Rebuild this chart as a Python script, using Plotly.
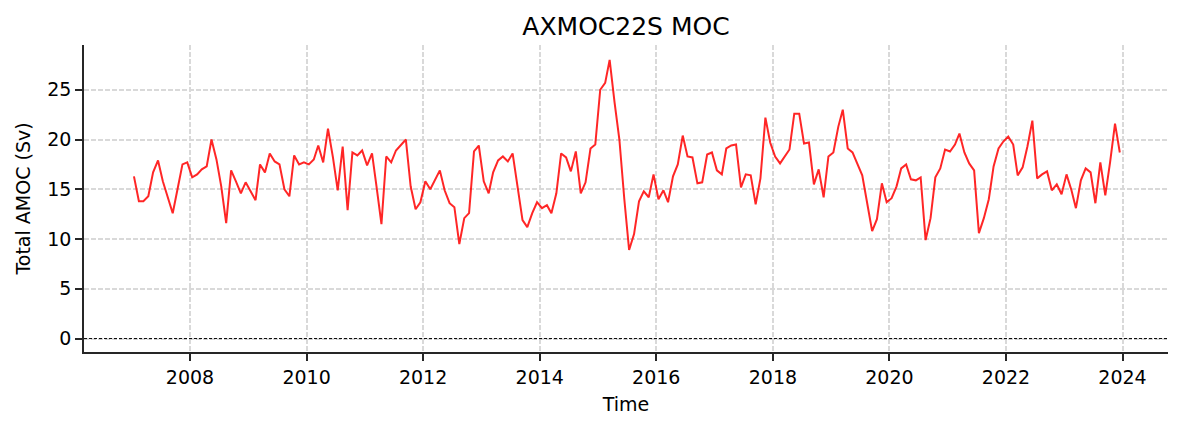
import pandas as pd
import plotly.graph_objects as go

# monthly means, Jan 2007 .. Dec 2023 (Sv)
amoc_2007_2010 = [16.3, 13.8, 13.8, 14.3, 16.7, 17.9, 15.8, 14.1, 12.6, 15.0, 17.5, 17.7,
                  16.2, 16.5, 17.0, 17.3, 20.0, 18.0, 15.3, 11.6, 16.9, 15.8, 14.6, 15.7,
                  14.8, 13.9, 17.5, 16.7, 18.6, 17.8, 17.5, 15.0, 14.3, 18.4, 17.5, 17.7,
                  17.5, 18.0, 19.4, 17.7, 21.1, 18.2, 14.9, 19.3, 12.9, 18.7, 18.4, 18.9]
amoc_2011_2014 = [17.4, 18.6, 15.3, 11.5, 18.3, 17.7, 18.9, 19.5, 20.0, 15.3, 13.0, 13.7,
                  15.8, 15.0, 16.0, 16.9, 14.9, 13.6, 13.2, 9.5, 12.1, 12.6, 18.8, 19.4,
                  15.8, 14.6, 16.7, 17.9, 18.3, 17.8, 18.6, 15.3, 11.9, 11.2, 12.6, 13.7,
                  13.1, 13.4, 12.6, 14.6, 18.6, 18.2, 16.8, 18.8, 14.6, 15.7, 19.1, 19.5]
amoc_2015_2018 = [25.0, 25.7, 28.0, 23.7, 20.0, 14.0, 8.9, 10.5, 13.8, 14.8, 14.2, 16.5,
                  14.0, 14.9, 13.7, 16.3, 17.5, 20.4, 18.3, 18.2, 15.6, 15.7, 18.5, 18.7,
                  16.9, 16.5, 19.1, 19.4, 19.5, 15.2, 16.5, 16.4, 13.5, 16.1, 22.2, 19.7,
                  18.3, 17.6, 18.3, 19.0, 22.6, 22.6, 19.6, 19.7, 15.5, 17.0, 14.2, 18.3]
amoc_2019_2023 = [18.7, 21.3, 23.0, 19.1, 18.7, 17.6, 16.4, 13.6, 10.8, 12.0, 15.6, 13.7,
                  14.1, 15.3, 17.1, 17.5, 16.0, 15.9, 16.2, 9.9, 12.1, 16.2, 17.1, 19.0,
                  18.8, 19.5, 20.6, 18.7, 17.6, 16.9, 10.6, 12.1, 14.0, 17.3, 19.1, 19.8,
                  20.3, 19.5, 16.4, 17.2, 19.3, 21.9, 16.1, 16.5, 16.8, 14.9, 15.5, 14.5,
                  16.5, 14.9, 13.1, 15.9, 17.1, 16.7, 13.6, 17.7, 14.4, 17.7, 21.6, 18.7]

amoc = amoc_2007_2010 + amoc_2011_2014 + amoc_2015_2018 + amoc_2019_2023
time = pd.date_range("2007-01-01", periods=len(amoc), freq="MS") + pd.Timedelta(days=14)

year_ticks = [f"{y}-01-01" for y in range(2008, 2025, 2)]
year_labels = [str(y) for y in range(2008, 2025, 2)]
sv_ticks = [0, 5, 10, 15, 20, 25]

font = "DejaVu Sans"
spine = "#262626"
grid = "#d9d9d9"

# page body has an 8px margin, so the figure is a bit smaller than the window
W, H = 1168, 415

fig = go.Figure()
fig.add_trace(go.Scatter(x=time, y=amoc, mode="lines",
                         line=dict(color="rgba(255,0,0,0.85)", width=2),
                         showlegend=False))
# zero reference
fig.add_hline(y=0, line=dict(color="black", width=1, dash="3px,2px"))

fig.update_layout(
    width=W, height=H,
    margin=dict(l=76, r=8, t=37, b=71),
    paper_bgcolor="white", plot_bgcolor="white",
    font=dict(family=font, size=19, color="black"),
    title=dict(text="AXMOC22S MOC", x=0.5, xref="paper", xanchor="center",
               y=1 - 18 / H, yref="container", yanchor="middle",
               font=dict(size=25, family=font, color="black")),
)
fig.update_xaxes(
    range=["2006-03-08", "2024-10-12"],
    tickvals=year_ticks, ticktext=year_labels,
    showline=True, linecolor=spine, linewidth=1.5, mirror=False,
    ticks="outside", ticklen=7, tickwidth=1.5, tickcolor=spine,
    showgrid=True, gridcolor=grid, gridwidth=1.5, griddash="5px,2px",
    zeroline=False, automargin=False,
    title=dict(text="Time", standoff=11, font=dict(size=19)),
)
fig.update_yaxes(
    range=[-1.35, 29.5],
    tickvals=sv_ticks,
    showline=True, linecolor=spine, linewidth=1.5, mirror=False,
    ticks="outside", ticklen=7, tickwidth=1.5, tickcolor=spine,
    showgrid=True, gridcolor=grid, gridwidth=1.5, griddash="5px,2px",
    zeroline=False, automargin=False,
    title=dict(text="Total AMOC (Sv)", standoff=12, font=dict(size=19)),
)

fig.write_html("out.html")
